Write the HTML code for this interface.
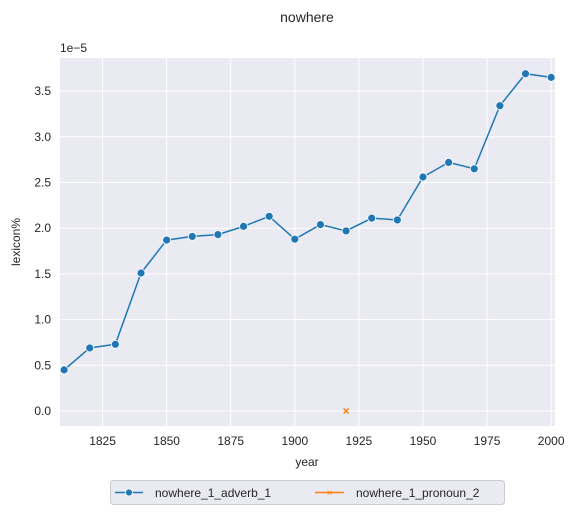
<!DOCTYPE html>
<html><head><meta charset="utf-8"><style>
body{margin:0;background:#fff;font-family:"Liberation Sans",Arial,sans-serif}
svg text{font-family:"Liberation Sans",Arial,sans-serif;fill:#262626}
</style></head><body>
<svg id="chart" width="575" height="515" viewBox="0 0 575 515" xmlns="http://www.w3.org/2000/svg">
<text x="307" y="22" font-size="14" text-anchor="middle">nowhere</text>
<rect x="60" y="58" width="495" height="368" fill="#eaeaf2"/>
<g id="grid"></g>
<g id="ticks"></g>
<text x="60" y="52" font-size="12">1e−5</text>
<text x="307" y="466" font-size="12" text-anchor="middle">year</text>
<text transform="translate(20,242) rotate(-90)" font-size="12" text-anchor="middle">lexicon%</text>
<g id="series"></g>
<g>
<rect x="110.5" y="480.5" width="394" height="24" rx="3" fill="#eaeaf2" stroke="#cccccc"/>
<g>
<line x1="115" y1="492.5" x2="143" y2="492.5" stroke="#1f77b4" stroke-width="1.5"/>
<circle cx="129" cy="492.5" r="3.5" fill="#1f77b4" stroke="#fff" stroke-width="0.8"/>
<text x="155" y="497" font-size="12">nowhere_1_adverb_1</text></g>
<g>
<line x1="315" y1="492.5" x2="344" y2="492.5" stroke="#ff7f0e" stroke-width="1.5"/>
<text x="329.5" y="496" font-size="10" text-anchor="middle" style="fill:#ff7f0e">×</text>
<text x="356" y="497" font-size="12">nowhere_1_pronoun_2</text></g>
</g>
</svg>
<script>
const years=[1810,1820,1830,1840,1850,1860,1870,1880,1890,1900,1910,1920,1930,1940,1950,1960,1970,1980,1990,2000];
const adverbValues=[0.45,0.69,0.73,1.51,1.87,1.91,1.93,2.02,2.13,1.88,2.04,1.97,2.11,2.09,2.56,2.72,2.65,3.34,3.69,3.65];
const pronounYears=[1920];
const pronounValues=[0];
const xTicks=[1825,1850,1875,1900,1925,1950,1975,2000];
const yTicks=[0,0.5,1.0,1.5,2.0,2.5,3.0,3.5];
const NS="http://www.w3.org/2000/svg";
const X=v=>60+(v-1808.4)*(495/193.1);
const Y=v=>411-v*91.4;
function mk(t,a,p){const e=document.createElementNS(NS,t);for(const k in a)e.setAttribute(k,a[k]);p.appendChild(e);return e;}
const grid=document.getElementById('grid'),ticks=document.getElementById('ticks'),ser=document.getElementById('series');
xTicks.forEach(t=>{const x=X(t);
const l=mk('line',{x1:x,x2:x,y1:58,y2:426,stroke:'#fff','stroke-width':1},grid);


const tx=mk('text',{x:x,y:445,'font-size':12,'text-anchor':'middle'},ticks);tx.textContent=t;

});
yTicks.forEach(t=>{const y=Y(t);
const l=mk('line',{x1:60,x2:555,y1:y,y2:y,stroke:'#fff','stroke-width':1},grid);


const tx=mk('text',{x:51,y:y+4,'font-size':12,'text-anchor':'end'},ticks);tx.textContent=t.toFixed(1);

});
const pl=mk('polyline',{points:years.map((y,i)=>X(y)+','+Y(adverbValues[i])).join(' '),fill:'none',stroke:'#1f77b4','stroke-width':1.5},ser);


years.forEach((y,i)=>{const c=mk('circle',{cx:X(y),cy:Y(adverbValues[i]),r:4,fill:'#1f77b4',stroke:'#fff','stroke-width':0.8},ser);

});
pronounYears.forEach((y,i)=>{const x=X(y),yy=Y(pronounValues[i]);
const g=mk('path',{d:`M${x-2.5},${yy-2.5}L${x+2.5},${yy+2.5}M${x-2.5},${yy+2.5}L${x+2.5},${yy-2.5}`,stroke:'#ff7f0e','stroke-width':1.5},ser);

});
</script>
</body></html>
